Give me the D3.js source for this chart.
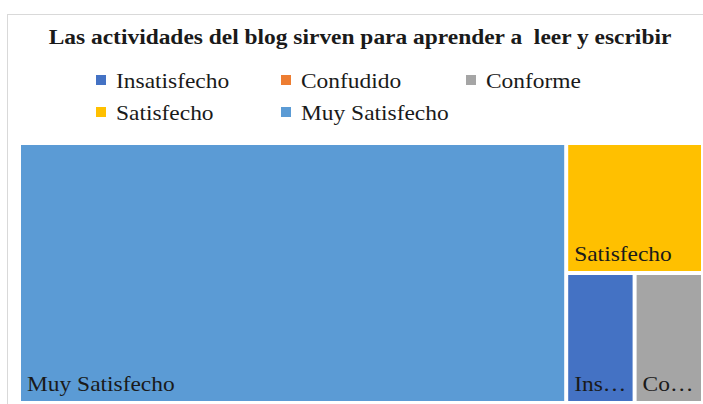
<!DOCTYPE html>
<html>
<head>
<meta charset="utf-8">
<script src="https://cdn.jsdelivr.net/npm/d3@7"></script>
<style>
  body { margin: 0; background: #fff; }
  svg { display: block; }
  text { font-family: "Liberation Serif", "Times New Roman", serif; fill: #1a1a1a; }
</style>
</head>
<body>
<div id="chart"></div>
<script>
const title = "Las actividades del blog sirven para aprender a \u00a0leer y escribir";
const categories = ["Insatisfecho", "Confudido", "Conforme", "Satisfecho", "Muy Satisfecho"];
const values = [1, 0, 1, 2, 16];
const colors = ["#4472C4", "#ED7D31", "#A5A5A5", "#FFC000", "#5B9BD5"];

const width = 703, height = 404;
const sx = 1.065; // the source text looks a bit wide

const svg = d3.select("#chart")
  .append("svg")
  .attr("width", width)
  .attr("height", height);

// chart frame
svg.append("rect")
  .attr("x", 7.5).attr("y", 14.5)
  .attr("width", 700).attr("height", 395)
  .attr("fill", "#fff")
  .attr("stroke", "#d9d9d9");

svg.append("text")
  .attr("transform", `translate(360,44) scale(${sx},1)`)
  .attr("text-anchor", "middle")
  .attr("font-weight", "bold")
  .attr("font-size", 22)
  .text(title);

// legend
const color = d3.scaleOrdinal().domain(categories).range(colors);
const legendX = [96, 281, 466], legendY = [80, 112];

const legend = svg.selectAll(".legend")
  .data(categories)
  .enter()
  .append("g")
  .attr("class", "legend")
  .attr("transform", (d, i) => `translate(${legendX[i % 3]},${legendY[Math.floor(i / 3)]})`);

legend.append("rect")
  .attr("x", 0).attr("y", -5)
  .attr("width", 10).attr("height", 10)
  .attr("fill", d => color(d));

legend.append("text")
  .attr("transform", `translate(20,7.5) scale(${sx},1)`)
  .attr("font-size", 22)
  .text(d => d);

// treemap
const tm = { x: 21, y: 145, w: 680, h: 256 };

const root = d3.hierarchy({ children: categories.map((c, i) => ({ name: c, value: values[i] })) })
  .sum(d => d.value || 0)
  .sort((a, b) => b.value - a.value);

d3.treemap()
  .tile(d3.treemapSquarify.ratio(1))
  .size([tm.w, tm.h])
  .paddingInner(4)(root);

const leaves = root.leaves().filter(d => d.value > 0);

const cell = svg.append("g")
  .attr("transform", `translate(${tm.x},${tm.y})`)
  .selectAll(".cell")
  .data(leaves)
  .enter()
  .append("g")
  .attr("class", "cell");

cell.append("rect")
  .attr("x", d => d.x0)
  .attr("y", d => d.y0)
  .attr("width", d => d.x1 - d.x0)
  .attr("height", d => d.y1 - d.y0)
  .attr("fill", d => color(d.data.name));

cell.append("text")
  .attr("transform", d => `translate(${d.x0 + 6},${d.y1 - 10}) scale(${sx},1)`)
  .attr("font-size", 22)
  .text(d => d.data.name)
  .each(function (d) {
    // shorten with an ellipsis when the label does not fit
    const el = d3.select(this);
    const maxW = (d.x1 - d.x0 - 12) / sx;
    let s = d.data.name;
    if (this.getComputedTextLength() <= maxW) return;
    while (s.length > 1) {
      s = s.slice(0, -1);
      el.text(s + "\u2026");
      if (this.getComputedTextLength() <= maxW) break;
    }
  });
</script>
</body>
</html>
